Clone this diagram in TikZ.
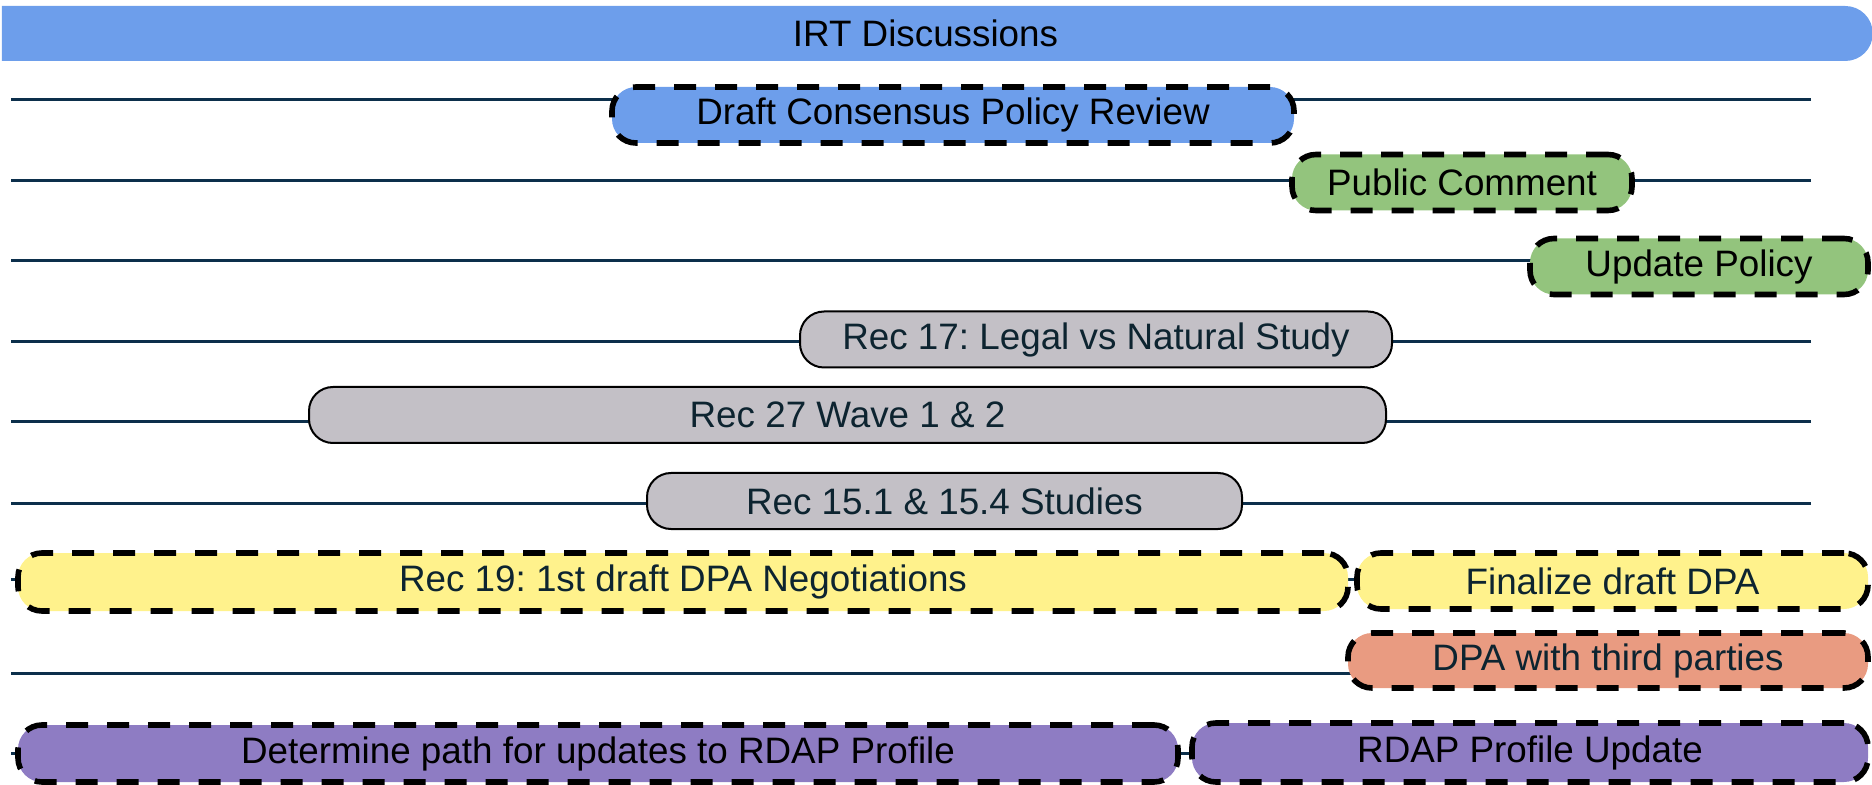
\documentclass[tikz,border=0pt]{standalone}
\usepackage{fontspec}
\setmainfont{Liberation Sans}
\usetikzlibrary{shapes.misc,backgrounds}
\definecolor{barblue}{HTML}{6D9EEB}
\definecolor{pgreen}{HTML}{93C47D}
\definecolor{pgray}{HTML}{C3C0C6}
\definecolor{pyellow}{HTML}{FFF28C}
\definecolor{psalmon}{HTML}{E99B81}
\definecolor{ppurple}{HTML}{8E7CC3}
\definecolor{rowline}{HTML}{0C2F4B}
\definecolor{darktext}{HTML}{0D2430}
\frenchspacing
\begin{document}
\begin{tikzpicture}[x=0.5pt,y=-0.5pt,
  every node/.style={font=\fontsize{18.4pt}{22pt}\selectfont, inner sep=0pt},
  task/.style={rectangle, rounded corners=12pt, minimum height=28pt},
  dashtask/.style={task, draw=black, line width=2.8pt, dash pattern=on 11pt off 9.5pt},
  solidtask/.style={task, draw=black, line width=1pt, fill=pgray, text=darktext},
  rowrule/.style={draw=rowline, line width=1.5pt}]
\useasboundingbox (0,0) rectangle (1872,785);

% title bar
\node[rounded rectangle, rounded rectangle west arc=none, fill=barblue,
      minimum width=935.5pt, minimum height=27.5pt] (irt) at (935.5,33.5) {IRT Discussions\hspace*{10pt}};

% tasks
\node[dashtask, fill=barblue, minimum width=341pt] (draft) at (953,115) {Draft Consensus Policy Review};
\node[dashtask, fill=pgreen, minimum width=170pt] (pub) at (1462,182.5) {Public Comment};
\node[dashtask, fill=pgreen, minimum width=169pt] (upd) at (1699,266.5) {Update Policy};
\node[solidtask, minimum width=296pt] (rec17) at (1096,339.5) {Rec 17: Legal vs Natural Study};
\node[solidtask, minimum width=538.5pt] (rec27) at (847.5,415) {Rec 27 Wave 1 \& 2};
\node[solidtask, minimum width=297.5pt] (rec15) at (944.5,501) {Rec 15.1 \& 15.4 Studies};
\node[dashtask, fill=pyellow, text=darktext, minimum width=665pt, minimum height=29pt] (rec19) at (683,582) {Rec 19: 1st draft DPA Negotiations};
\node[dashtask, fill=pyellow, text=darktext, minimum width=255.5pt] (fin) at (1612.5,581) {Finalize draft DPA};
\node[dashtask, fill=psalmon, text=darktext, minimum width=260pt, minimum height=27.5pt] (dpa) at (1608,660.5) {DPA with third parties};
\node[dashtask, fill=ppurple, minimum width=580pt, minimum height=28.5pt] (det) at (598,753.5) {Determine path for updates to RDAP Profile};
\node[dashtask, fill=ppurple, minimum width=338pt, minimum height=29.5pt] (rdap) at (1530,752.5) {RDAP Profile Update};

% row rule end points
\coordinate (l1) at (11,100);  \coordinate (r1) at (1811,100);
\coordinate (l2) at (11,181);  \coordinate (r2) at (1811,181);
\coordinate (l3) at (11,261);
\coordinate (l4) at (11,342);  \coordinate (r4) at (1811,342);
\coordinate (l5) at (11,422);  \coordinate (r5) at (1811,422);
\coordinate (l6) at (11,503);  \coordinate (r6) at (1811,503);
\coordinate (l7) at (11,579);
\coordinate (l8) at (11,673);
\coordinate (l9) at (11,753);

\begin{scope}[on background layer]
\draw[rowrule] (l1) -- (l1 -| draft.center);
\draw[rowrule] (r1) -- (r1 -| draft.center);
\draw[rowrule] (l2) -- (l2 -| pub.center);
\draw[rowrule] (r2) -- (r2 -| pub.center);
\draw[rowrule] (l3) -- (l3 -| upd.center);
\draw[rowrule] (l4) -- (l4 -| rec17.center);
\draw[rowrule] (r4) -- (r4 -| rec17.center);
\draw[rowrule] (l5) -- (l5 -| rec27.center);
\draw[rowrule] (r5) -- (r5 -| rec27.center);
\draw[rowrule] (l6) -- (l6 -| rec15.center);
\draw[rowrule] (r6) -- (r6 -| rec15.center);
\draw[rowrule] (l7) -- (l7 -| rec19.center);
\draw[rowrule] (l7 -| rec19.center) -- (l7 -| fin.center);
\draw[rowrule] (l8) -- (l8 -| dpa.center);
\draw[rowrule] (l9) -- (l9 -| det.center);
\draw[rowrule] (l9 -| det.center) -- (l9 -| rdap.center);
\end{scope}
\end{tikzpicture}
\end{document}
